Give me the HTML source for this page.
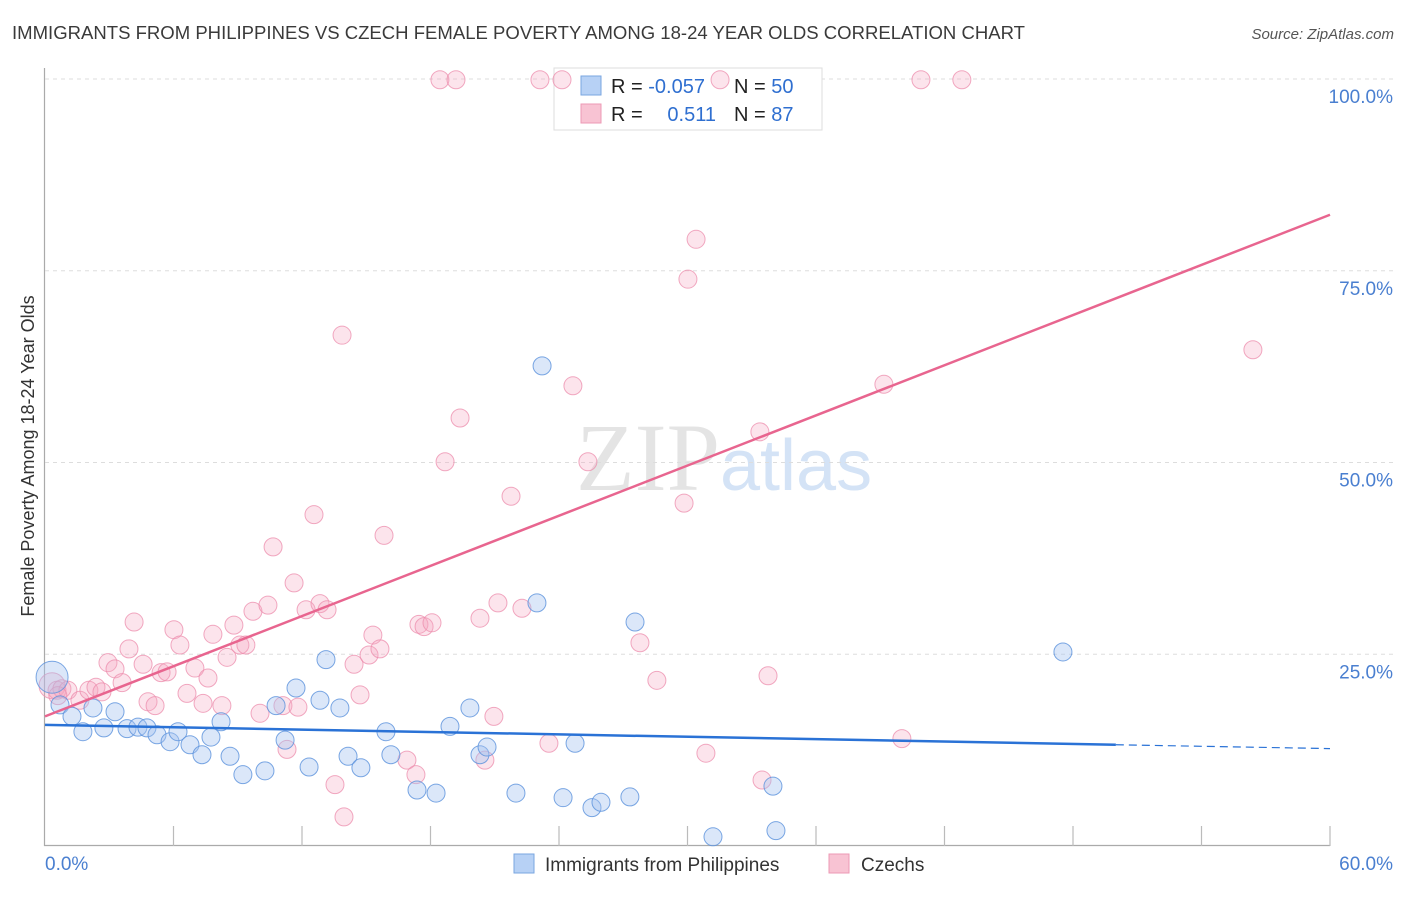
<!DOCTYPE html>
<html><head><meta charset="utf-8"><style>
body{margin:0;background:#fff;font-family:"Liberation Sans",sans-serif;}
</style></head><body>
<svg id="chart" width="1406" height="892" xmlns="http://www.w3.org/2000/svg">
<text x="12" y="39" font-size="18" fill="#3a3a3a" textLength="1013" lengthAdjust="spacingAndGlyphs">IMMIGRANTS FROM PHILIPPINES VS CZECH FEMALE POVERTY AMONG 18-24 YEAR OLDS CORRELATION CHART</text>
<text x="1394" y="39" font-size="15" fill="#555" font-style="italic" text-anchor="end">Source: ZipAtlas.com</text>
<text transform="translate(34,456) rotate(-90)" font-size="18" fill="#333" text-anchor="middle">Female Poverty Among 18-24 Year Olds</text>
<text x="720" y="490" font-size="96" fill="#e4e4e4" text-anchor="end" font-family="Liberation Serif,serif">ZIP</text>
<text x="720" y="490" font-size="72" fill="#d4e3f6">atlas</text>
<g id="grid"></g>
<g>
<rect x="554" y="68" width="268" height="62" fill="#fff" stroke="#ddd"/>
<rect x="581" y="76" width="20" height="19" fill="#b7d1f5" stroke="#7aa6e0"/>
<rect x="581" y="104" width="20" height="19" fill="#f8c3d3" stroke="#ec9ab5"/>
<text x="611" y="93" font-size="20" fill="#222">R = <tspan fill="#2f6fd0">-0.057</tspan></text>
<text x="734" y="93" font-size="20" fill="#222">N = <tspan fill="#2f6fd0">50</tspan></text>
<text x="611" y="121" font-size="20" fill="#222">R = </text>
<text x="716" y="121" font-size="20" fill="#2f6fd0" text-anchor="end">0.511</text>
<text x="734" y="121" font-size="20" fill="#222">N = <tspan fill="#2f6fd0">87</tspan></text>
</g>
<g id="pts"></g>
<g id="lines"></g>
<g>
<rect x="514" y="854" width="20" height="19" fill="#b7d1f5" stroke="#7aa6e0"/>
<text x="545" y="871" font-size="19" fill="#333">Immigrants from Philippines</text>
<rect x="829" y="854" width="20" height="19" fill="#f8c3d3" stroke="#ec9ab5"/>
<text x="861" y="871" font-size="19" fill="#333">Czechs</text>
</g>
</svg>
<script>
const xTicks=[0,60];
const yTicks=[25,50,75,100];
const blueX=[0.33,0.70,1.26,1.77,2.24,2.75,3.27,3.83,4.34,4.76,5.23,5.84,6.21,6.77,7.33,7.75,8.22,8.64,9.24,10.27,10.79,11.21,11.72,12.33,12.84,13.12,13.77,14.15,14.75,15.92,16.15,17.37,18.26,18.91,19.84,20.31,20.64,21.99,22.97,23.21,24.19,24.75,25.54,25.96,27.31,27.55,31.19,33.99,34.13,47.53];
const blueY=[22.0,18.4,16.9,14.9,18.0,15.4,17.5,15.3,15.5,15.4,14.5,13.6,14.9,13.2,11.9,14.2,16.2,11.7,9.3,9.8,18.3,13.8,20.6,10.3,19.0,24.3,18.0,11.7,10.2,14.9,11.9,7.3,6.9,15.6,18.0,11.9,12.9,6.9,31.7,62.6,6.3,13.4,5.0,5.7,6.4,29.2,1.2,7.8,2.0,25.3];
const pinkX=[0.33,0.56,0.79,1.07,1.63,2.05,2.38,2.66,2.94,3.27,3.60,3.92,4.16,4.58,4.81,5.14,5.42,5.70,6.02,6.30,6.63,7.00,7.38,7.61,7.84,8.26,8.50,8.82,9.10,9.38,9.71,10.04,10.41,10.65,11.11,11.30,11.63,11.81,12.19,12.56,12.84,13.17,13.54,13.87,13.96,14.43,14.71,15.13,15.31,15.64,15.83,16.90,17.32,17.46,17.70,18.07,18.44,18.68,19.19,19.38,20.31,20.54,20.96,21.15,21.76,22.27,23.11,23.53,24.14,24.65,25.35,27.78,28.57,29.84,30.02,30.40,30.86,31.52,33.38,33.48,33.76,39.17,40.01,40.90,42.81,56.40,0.6];
const pinkY=[20.9,20.3,20.5,20.3,19.0,20.3,20.7,20.1,23.9,23.1,21.3,25.7,29.2,23.7,18.8,18.3,22.6,22.7,28.2,26.2,19.9,23.2,18.6,21.9,27.6,18.3,24.6,28.8,26.2,26.2,30.6,17.3,31.4,39.0,18.3,12.6,34.3,18.1,30.8,43.2,31.6,30.8,8.0,66.6,3.8,23.7,19.7,24.9,27.5,25.7,40.5,11.2,9.3,28.9,28.6,29.1,99.9,50.1,99.9,55.8,29.7,11.2,16.9,31.7,45.6,31.0,99.9,13.4,99.9,60.0,50.1,26.5,21.6,44.7,73.9,79.1,12.1,99.9,54.0,8.6,22.2,60.2,14.0,99.9,99.9,64.7,19.6];
const blueTrend=[15.8,13.2,12.7]; // y at x=0, 50, 60
const pinkTrend=[16.9,82.3]; // y at x=0, 60
const X=v=>45+v*(1285/60), Y=v=>846-v*7.67;
const NS="http://www.w3.org/2000/svg";
function mk(tag,attrs,parent){const e=document.createElementNS(NS,tag);for(const k in attrs)e.setAttribute(k,attrs[k]);parent.appendChild(e);return e;}
const grid=document.getElementById('grid'),pts=document.getElementById('pts'),lines=document.getElementById('lines');
let ax=mk('line',{x1:44.5,y1:68,x2:44.5,y2:846,stroke:'#aaa','stroke-width':1.2},grid);


let bx=mk('line',{x1:44,y1:845.5,x2:1330,y2:845.5,stroke:'#aaa','stroke-width':1.2},grid);


for(let i=1;i<=10;i++){const t=mk('line',{x1:45+i*128.5,y1:826,x2:45+i*128.5,y2:846,stroke:'#bbb','stroke-width':1.2},grid);

}
yTicks.forEach(v=>{const g=mk('line',{x1:45,y1:Y(v),x2:1395,y2:Y(v),stroke:'#ddd','stroke-dasharray':'4,4'},grid);


const t=mk('text',{x:1393,y:Y(v)+24,'font-size':19,fill:'#4a7fd0','text-anchor':'end'},grid);t.textContent=v.toFixed(1)+'%';

});
xTicks.forEach((v,i)=>{const t=mk('text',{x:i?1393:45,y:870,'font-size':19,fill:'#4a7fd0','text-anchor':i?'end':'start'},grid);t.textContent=v.toFixed(1)+'%';

});
pinkX.forEach((x,i)=>{const c=mk('circle',{cx:X(x),cy:Y(pinkY[i]),r:i==0?13:9,fill:'rgba(244,165,192,0.3)',stroke:'rgba(236,140,172,0.75)','stroke-width':1},pts);

});
blueX.forEach((x,i)=>{const c=mk('circle',{cx:X(x),cy:Y(blueY[i]),r:i==0?16:9,fill:'rgba(164,196,240,0.4)',stroke:'rgba(90,145,220,0.8)','stroke-width':1},pts);

});
let bl=mk('line',{x1:X(0),y1:Y(blueTrend[0]),x2:X(50),y2:Y(blueTrend[1]),stroke:'#2a72d6','stroke-width':2.5},lines);


let bd=mk('line',{x1:X(50),y1:Y(blueTrend[1]),x2:X(60),y2:Y(blueTrend[2]),stroke:'#2a72d6','stroke-width':1.2,'stroke-dasharray':'8,5'},lines);


let pl=mk('line',{x1:X(0),y1:Y(pinkTrend[0]),x2:X(60),y2:Y(pinkTrend[1]),stroke:'#e8658f','stroke-width':2.5},lines);


</script>
</body></html>
